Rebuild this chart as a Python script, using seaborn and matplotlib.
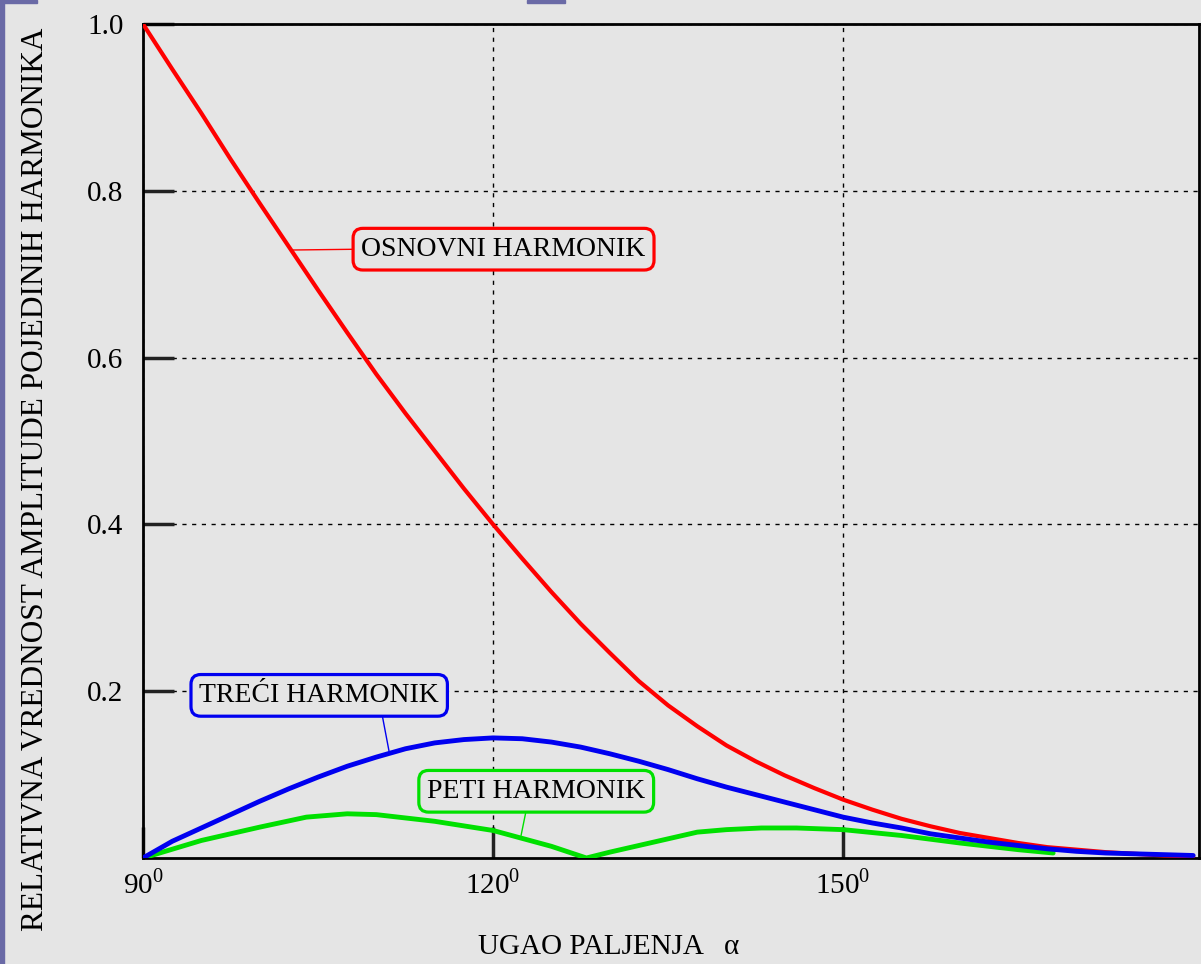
import matplotlib
matplotlib.use("Agg")
import matplotlib.pyplot as plt
import pandas as pd
import seaborn as sns
from matplotlib.patches import Rectangle

# firing angle (deg) and relative harmonic amplitudes
alpha = [90, 92.5, 95, 97.5, 100, 102.5, 105, 107.5, 110, 112.5, 115, 117.5,
         120, 122.5, 125, 127.5, 130, 132.5, 135, 137.5, 140, 142.5, 145,
         147.5, 150, 152.5, 155, 157.5, 160, 162.5, 165, 167.5, 170, 172.5,
         175, 177.5, 180]
osnovni = [1.0, 0.946, 0.893, 0.838, 0.785, 0.733, 0.681, 0.630, 0.580,
           0.533, 0.488, 0.443, 0.400, 0.359, 0.319, 0.281, 0.246, 0.212,
           0.183, 0.158, 0.135, 0.116, 0.099, 0.084, 0.070, 0.058, 0.047,
           0.038, 0.030, 0.024, 0.018, 0.013, 0.010, 0.007, 0.005, 0.003, 0.002]
treci = [0.0, 0.020, 0.036, 0.052, 0.068, 0.083, 0.097, 0.110, 0.121, 0.131,
         0.138, 0.142, 0.144, 0.143, 0.139, 0.133, 0.125, 0.116, 0.106,
         0.095, 0.085, 0.076, 0.067, 0.058, 0.049, 0.042, 0.036, 0.029,
         0.024, 0.019, 0.015, 0.011, 0.008, 0.006, 0.005, 0.004, 0.003]
alpha5 = [90, 95, 100, 104, 107.5, 110, 115, 120, 125, 128, 130, 132.5,
          135, 137.5, 140, 143, 146, 150, 155, 160, 165, 168]
peti = [0.0, 0.021, 0.037, 0.049, 0.053, 0.052, 0.044, 0.033, 0.014, 0.0,
        0.007, 0.015, 0.023, 0.031, 0.034, 0.036, 0.036, 0.034, 0.027,
        0.018, 0.010, 0.006]

x_ticks = [90, 120, 150]
x_labels = ["90$^0$", "120$^0$", "150$^0$"]
y_ticks = [0.2, 0.4, 0.6, 0.8, 1.0]
y_labels = ["0.2", "0.4", "0.6", "0.8", "1.0"]

bg = "#e5e5e5"
sns.set_style("white", {"axes.facecolor": bg, "figure.facecolor": bg})
plt.rcParams["font.family"] = ["Liberation Serif", "DejaVu Serif"]
plt.rcParams["mathtext.fontset"] = "custom"
plt.rcParams["mathtext.rm"] = "Liberation Serif"
plt.rcParams["text.color"] = "black"

df1 = pd.DataFrame({"alpha": alpha, "amp": osnovni})
df3 = pd.DataFrame({"alpha": alpha, "amp": treci})
df5 = pd.DataFrame({"alpha": alpha5, "amp": peti})

fig = plt.figure(figsize=(12.01, 9.64), dpi=100)
ax = fig.add_axes([143 / 1201, 1 - 858 / 964, (1199 - 143) / 1201, (858 - 24) / 964])

sns.lineplot(data=df1, x="alpha", y="amp", ax=ax, color="#ff0000", lw=3, zorder=3)
sns.lineplot(data=df5, x="alpha", y="amp", ax=ax, color="#00e000", lw=3.5, zorder=4)
sns.lineplot(data=df3, x="alpha", y="amp", ax=ax, color="#0000f0", lw=3.5, zorder=5)

ax.set_xlim(90, 180.5)
ax.set_ylim(0, 1.0)
ax.set_xticks(x_ticks)
ax.set_xticklabels(x_labels, fontsize=21)
ax.set_yticks(y_ticks)
ax.set_yticklabels(y_labels, fontsize=21)
ax.tick_params(bottom=True, left=True, direction="in", length=22, width=2.5,
               color="#222222", labelcolor="black")
ax.tick_params(axis="y", pad=14)
ax.tick_params(axis="x", pad=8)
ax.grid(True, color="black", linestyle=(0, (3, 4)), lw=1)
for s in ax.spines.values():
    s.set_visible(True)
    s.set_color("black")
    s.set_linewidth(2)

ax.set_xlabel("UGAO PALJENJA   α", fontsize=21, color="black")
ax.xaxis.set_label_coords((609 - 143) / 1056, -(947 - 858) / 834)
ax.xaxis.label.set_verticalalignment("center")
ax.set_ylabel("RELATIVNA VREDNOST AMPLITUDE POJEDINIH HARMONIKA", fontsize=22.5,
              color="black")
ax.yaxis.set_label_coords(-(143 - 36) / 1056, (858 - 479) / 834)
ax.yaxis.label.set_verticalalignment("center")

# curve labels with leader lines
notes = [
    ("OSNOVNI HARMONIK", (102.75, 0.729), (120.9, 0.730), "#ff0000", (0, 0.5)),
    ("TREĆI HARMONIK", (111.1, 0.127), (105.1, 0.195), "#0000f0", (0.757, 0)),
    ("PETI HARMONIK", (122.4, 0.027), (123.7, 0.080), "#00e000", (0.46, 0)),
]
for txt, xy, xyt, col, rp in notes:
    ax.annotate(txt, xy=xy, xytext=xyt, fontsize=20, ha="center", va="center",
                color="black",
                bbox=dict(boxstyle="round,pad=0.3,rounding_size=0.35",
                          fc=bg, ec=col, lw=2.3),
                arrowprops=dict(arrowstyle="-", color=col, lw=1,
                                relpos=rp, shrinkA=0, shrinkB=0),
                zorder=6)

# slide frame remnants
purple = "#6a6aa6"
fig.patches.append(Rectangle((0, 0), 4 / 1201, 1, transform=fig.transFigure,
                             color=purple))
fig.patches.append(Rectangle((0, 1 - 3 / 964), 37 / 1201, 3 / 964,
                             transform=fig.transFigure, color=purple))
fig.patches.append(Rectangle((527 / 1201, 1 - 3 / 964), 38 / 1201, 3 / 964,
                             transform=fig.transFigure, color=purple))

fig.savefig("out.png", dpi=100, facecolor=bg)
